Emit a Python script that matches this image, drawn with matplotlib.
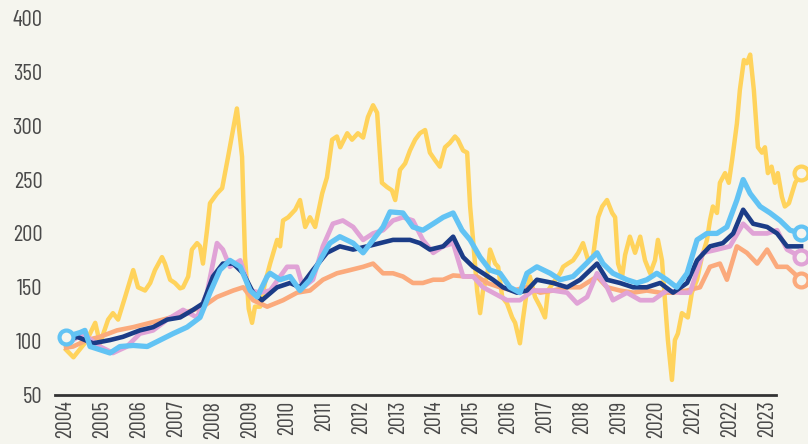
import matplotlib.pyplot as plt

BG = "#f5f5ee"
FONT = ["Barlow Condensed", "Roboto Condensed", "Archivo Narrow", "DejaVu Sans"]

years = list(range(2004, 2024))
y_ticks = [50, 100, 150, 200, 250, 300, 350, 400]

# yellow series
yellow_t = [2004.0, 2004.2, 2004.55, 2004.79, 2004.92, 2005.14, 2005.27, 2005.41, 2005.6, 2005.82,
            2005.95, 2006.14, 2006.28, 2006.41, 2006.6, 2006.68, 2006.82, 2006.95, 2007.09, 2007.17,
            2007.31, 2007.41, 2007.55, 2007.63, 2007.71, 2007.82, 2007.9, 2008.09, 2008.23, 2008.39,
            2008.63, 2008.77, 2008.85, 2008.95, 2009.04, 2009.12, 2009.26, 2009.39, 2009.53, 2009.72,
            2009.8, 2009.88, 2010.02, 2010.21, 2010.34, 2010.48, 2010.61, 2010.75, 2010.94, 2011.07,
            2011.21, 2011.34, 2011.43, 2011.62, 2011.75, 2011.91, 2012.05, 2012.18, 2012.32, 2012.43,
            2012.56, 2012.7, 2012.83, 2012.92, 2013.05, 2013.19, 2013.32, 2013.46, 2013.59, 2013.73,
            2013.86, 2014.0, 2014.13, 2014.27, 2014.4, 2014.54, 2014.62, 2014.76, 2014.87, 2014.95,
            2015.03, 2015.14, 2015.22, 2015.3, 2015.41, 2015.49, 2015.63, 2015.71, 2015.82, 2015.95,
            2016.09, 2016.17, 2016.3, 2016.38, 2016.49, 2016.57, 2016.71, 2016.85, 2016.98, 2017.06,
            2017.2, 2017.39, 2017.47, 2017.6, 2017.74, 2017.88, 2018.01, 2018.15, 2018.28, 2018.42,
            2018.53, 2018.66, 2018.8, 2018.88, 2018.96, 2019.07, 2019.15, 2019.28, 2019.42, 2019.56,
            2019.69, 2019.83, 2019.96, 2020.04, 2020.15, 2020.23, 2020.31, 2020.42, 2020.5, 2020.58,
            2020.69, 2020.85, 2020.96, 2021.1, 2021.23, 2021.37, 2021.45, 2021.53, 2021.64, 2021.72,
            2021.86, 2021.96, 2022.05, 2022.18, 2022.26, 2022.37, 2022.45, 2022.54, 2022.64, 2022.75,
            2022.86, 2022.94, 2023.02, 2023.12, 2023.21, 2023.29, 2023.4, 2023.48, 2023.59, 2023.76,
            2023.92]
yellow_v = [92, 85, 100, 117, 98, 120, 126, 120, 141, 166,
            150, 147, 154, 166, 178, 172, 157, 154, 149, 150,
            160, 185, 191, 188, 172, 203, 228, 237, 242, 271,
            316, 271, 178, 130, 117, 132, 132, 154, 172, 194,
            188, 212, 215, 222, 231, 206, 215, 206, 237, 252,
            287, 290, 280, 293, 287, 293, 289, 308, 319, 312,
            247, 243, 240, 231, 259, 265, 277, 287, 293, 296,
            275, 268, 262, 280, 284, 290, 287, 277, 275, 225,
            194, 147, 126, 147, 160, 185, 172, 169, 141, 135,
            122, 117, 98, 120, 147, 160, 141, 132, 122, 147,
            154, 163, 169, 172, 175, 182, 191, 175, 178, 215,
            225, 231, 219, 215, 172, 160, 180, 197, 182, 197,
            175, 163, 175, 194, 175, 138, 101, 64, 101, 107,
            126, 122, 145, 157, 178, 194, 212, 225, 219, 247,
            256, 247, 268, 302, 333, 361, 358, 366, 333, 280,
            275, 280, 256, 262, 247, 256, 234, 225, 228, 247,
            256]

# light blue series
lblue_t = [2004.0, 2004.38, 2004.51, 2004.65, 2004.92, 2005.19, 2005.46, 2005.82, 2006.2, 2006.55,
           2006.9, 2007.28, 2007.63, 2007.9, 2008.17, 2008.44, 2008.72, 2008.99, 2009.18, 2009.45,
           2009.53, 2009.8, 2010.07, 2010.34, 2010.61, 2010.88, 2011.15, 2011.42, 2011.78, 2012.05,
           2012.32, 2012.59, 2012.78, 2013.13, 2013.4, 2013.67, 2013.95, 2014.22, 2014.49, 2014.73,
           2014.95, 2015.22, 2015.49, 2015.76, 2016.03, 2016.3, 2016.49, 2016.76, 2017.12, 2017.39,
           2017.74, 2018.01, 2018.39, 2018.55, 2018.82, 2019.2, 2019.47, 2019.74, 2020.01, 2020.28,
           2020.55, 2020.83, 2021.1, 2021.37, 2021.64, 2021.91, 2022.18, 2022.35, 2022.54, 2022.81,
           2023.08, 2023.35, 2023.62, 2023.92]
lblue_v = [104, 108, 110, 95, 92, 89, 95, 96, 95, 101,
           107, 113, 122, 145, 166, 175, 169, 147, 141, 160,
           163, 157, 160, 147, 157, 175, 191, 197, 191, 182,
           194, 206, 220, 219, 206, 203, 209, 215, 219, 203,
           194, 178, 166, 163, 150, 145, 163, 169, 163, 157,
           160, 169, 182, 172, 163, 157, 154, 157, 163, 157,
           150, 163, 194, 200, 200, 206, 231, 250, 237, 225,
           219, 212, 203, 200]

# dark blue series
navy_t = [2004.0, 2004.3, 2004.73, 2005.19, 2005.54, 2006.0, 2006.36, 2006.74, 2007.09, 2007.44,
          2007.71, 2007.98, 2008.25, 2008.53, 2008.8, 2009.07, 2009.31, 2009.72, 2010.07, 2010.34,
          2010.69, 2011.07, 2011.42, 2011.78, 2012.16, 2012.51, 2012.86, 2013.32, 2013.59, 2013.86,
          2014.22, 2014.49, 2014.76, 2015.03, 2015.3, 2015.57, 2015.84, 2016.22, 2016.49, 2016.76,
          2017.2, 2017.58, 2017.93, 2018.39, 2018.66, 2019.01, 2019.37, 2019.74, 2020.1, 2020.45,
          2020.83, 2021.1, 2021.45, 2021.8, 2022.08, 2022.35, 2022.62, 2023.0, 2023.27, 2023.54,
          2023.92]
navy_v = [100, 104, 98, 101, 104, 110, 113, 120, 122, 129,
          135, 160, 172, 172, 163, 145, 138, 150, 154, 150,
          166, 182, 188, 185, 188, 191, 194, 194, 191, 185,
          188, 197, 178, 169, 163, 157, 150, 145, 147, 157,
          154, 150, 157, 172, 157, 154, 150, 150, 154, 145,
          154, 175, 188, 191, 200, 222, 209, 206, 200, 188,
          188]

# pink series
pink_t = [2004.0, 2004.19, 2004.46, 2004.92, 2005.27, 2005.65, 2006.0, 2006.36, 2006.74, 2007.17,
          2007.55, 2007.82, 2008.09, 2008.25, 2008.44, 2008.72, 2008.99, 2009.26, 2009.53, 2009.99,
          2010.26, 2010.42, 2010.69, 2010.96, 2011.23, 2011.5, 2011.78, 2012.05, 2012.32, 2012.59,
          2012.86, 2013.13, 2013.4, 2013.67, 2013.95, 2014.22, 2014.49, 2014.76, 2015.03, 2015.3,
          2015.57, 2015.95, 2016.3, 2016.66, 2017.2, 2017.58, 2017.85, 2018.12, 2018.39, 2018.66,
          2018.82, 2019.2, 2019.56, 2019.91, 2020.28, 2020.64, 2020.91, 2021.26, 2021.64, 2021.99,
          2022.35, 2022.62, 2023.0, 2023.27, 2023.54, 2023.92]
pink_v = [100, 101, 107, 95, 89, 95, 107, 110, 120, 129,
          122, 145, 191, 185, 169, 175, 147, 145, 147, 169,
          169, 150, 157, 188, 209, 212, 206, 194, 200, 203,
          212, 215, 212, 194, 182, 188, 191, 160, 160, 150,
          145, 138, 138, 147, 147, 145, 135, 141, 163, 150,
          138, 145, 138, 138, 147, 145, 145, 182, 185, 188,
          209, 200, 200, 203, 185, 178]

# orange series
orange_t = [2004.0, 2004.19, 2004.57, 2004.92, 2005.38, 2005.82, 2006.28, 2006.74, 2007.28, 2007.71,
            2008.09, 2008.53, 2008.8, 2009.07, 2009.45, 2009.88, 2010.26, 2010.61, 2010.96, 2011.34,
            2011.7, 2012.05, 2012.32, 2012.59, 2012.86, 2013.13, 2013.4, 2013.67, 2013.95, 2014.22,
            2014.49, 2014.87, 2015.14, 2015.41, 2015.76, 2016.11, 2016.49, 2016.85, 2017.2, 2017.58,
            2017.93, 2018.39, 2018.66, 2019.01, 2019.37, 2019.74, 2020.1, 2020.45, 2020.83, 2021.18,
            2021.45, 2021.72, 2021.91, 2022.18, 2022.45, 2022.73, 2023.0, 2023.27, 2023.54, 2023.92]
orange_v = [94, 95, 101, 104, 110, 113, 117, 121, 127, 132,
            141, 147, 150, 138, 132, 138, 145, 147, 157, 163,
            166, 169, 172, 163, 163, 160, 154, 154, 157, 157,
            161, 160, 160, 154, 150, 147, 150, 145, 147, 150,
            150, 160, 150, 147, 145, 147, 145, 145, 147, 150,
            169, 172, 157, 188, 182, 172, 185, 169, 169, 157]

series = [
    (yellow_t, yellow_v, "#ffd35c", 3.2, True),
    (orange_t, orange_v, "#fbaa7c", 3.3, True),
    (pink_t, pink_v, "#e0a3d6", 3.4, True),
    (navy_t, navy_v, "#1b3c87", 3.3, False),
    (lblue_t, lblue_v, "#62c3f4", 3.8, True),
]

fig = plt.figure(figsize=(8.08, 4.44), dpi=100, facecolor=BG)
ax = fig.add_axes([55 / 808, 49 / 444, 721 / 808, 377 / 444])
ax.set_facecolor(BG)

for t, v, color, lw, end_marker in series:
    ax.plot(t, v, color=color, lw=lw, solid_joinstyle="round", clip_on=False)
    if end_marker:
        ax.plot(t[-1], v[-1], "o", ms=10, mfc=BG, mec=color, mew=3, clip_on=False, zorder=5)

# start circle on the light blue line
ax.plot(lblue_t[0], lblue_v[0], "o", ms=10, mfc=BG, mec="#62c3f4", mew=3, clip_on=False, zorder=5)

ax.set_xlim(2003.70, 2023.24)
ax.set_ylim(50, 400)
ax.set_xticks(years)
ax.set_xticklabels([str(y) for y in years], rotation=90, family=FONT, fontsize=16, color="#4a4a4a")
ax.set_yticks(y_ticks)
ax.set_yticklabels([str(y) for y in y_ticks], family=FONT, fontsize=16.5, color="#4a4a4a")
ax.tick_params(axis="x", length=0, pad=4)
ax.tick_params(axis="y", length=0, pad=9)

for side in ["top", "right", "left"]:
    ax.spines[side].set_visible(False)
ax.spines["bottom"].set_color("#333333")
ax.spines["bottom"].set_linewidth(2)

fig.savefig("out.png", dpi=100, facecolor=BG)
